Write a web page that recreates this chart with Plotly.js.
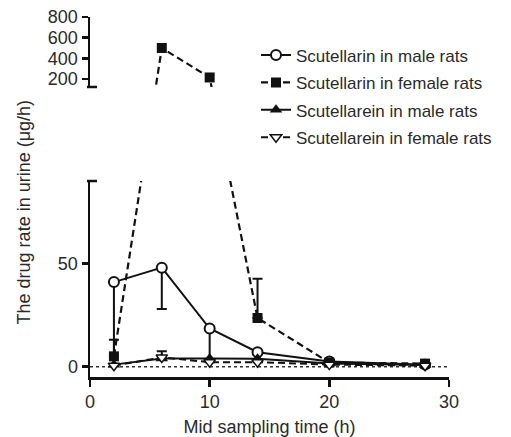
<!DOCTYPE html>
<html>
<head>
<meta charset="utf-8">
<script src="https://cdn.plot.ly/plotly-3.0.1.min.js"></script>
<style>html,body{margin:0;padding:0;background:#fff;}#chart{width:511px;height:437px;}</style>
</head>
<body>
<div id="chart"></div>
<script>
// ---- data ----
var time = [2, 6, 10, 14, 20, 28];
var seriesNames = ["Scutellarin in male rats", "Scutellarin in female rats", "Scutellarein in male rats", "Scutellarein in female rats"];
var scutMale = [41, 48, 18.5, 7, 2.5, 1];
var scutMaleErrMinus = [40, 20, 16, 4, 0, 0];
var scutFemale = [5, 500, 215, 23.6, 2, 1.5];
var scutFemaleErrPlus = [8, 0, 0, 19, 0, 0];
var scuteinMale = [1, 4, 4, 3.8, 1.5, 0.8];
var scuteinFemale = [0.5, 4.5, 2.2, 2.2, 1, 0.5];
var scuteinFemaleErrPlus = [0, 3, 0, 0, 0, 0];
var lowerTicks = [0, 50];
var upperTicks = [200, 400, 600, 800];
var xTicks = [0, 10, 20, 30];

// ---- axis geometry ----
var lowerRange = [-5, 90];
var upperRange = [123, 800];
var lowerDomain = [0, 0.5444];
var upperDomain = [0.8056, 1];
var pw = 421;
var xDomain = [0, 359 / pw];

function toPaper(v) {
  if (v <= lowerRange[1]) return lowerDomain[0] + (lowerDomain[1] - lowerDomain[0]) * (v - lowerRange[0]) / (lowerRange[1] - lowerRange[0]);
  return upperDomain[0] + (upperDomain[1] - upperDomain[0]) * (v - upperRange[0]) / (upperRange[1] - upperRange[0]);
}
function paperToLower(p) { return lowerRange[0] + (lowerRange[1] - lowerRange[0]) * (p - lowerDomain[0]) / (lowerDomain[1] - lowerDomain[0]); }
function paperToUpper(p) { return upperRange[0] + (upperRange[1] - upperRange[0]) * (p - upperDomain[0]) / (upperDomain[1] - upperDomain[0]); }
function onLower(arr) { return arr.map(function (v) { return paperToLower(toPaper(v)); }); }
function onUpper(arr) { return arr.map(function (v) { return paperToUpper(toPaper(v)); }); }

var FONT = "Liberation Sans, Arial, sans-serif";
var TXT = "#2a2a2a";
var dashF = "7px,4px";

function errObj(plus, minus) {
  return {type: "data", symmetric: false, array: plus, arrayminus: minus, color: "#111", thickness: 2, width: 5, visible: true};
}
var zeros = time.map(function () { return 0; });

var traces = [
  {x: time, y: onLower(scutMale), xaxis: "x", yaxis: "y", name: seriesNames[0], legendgroup: "g1", mode: "lines+markers",
   line: {color: "#111", width: 2}, marker: {symbol: "circle", size: 10, color: "#fff", line: {color: "#111", width: 2}},
   error_y: errObj(zeros, scutMaleErrMinus)},
  {x: time, y: onLower(scutFemale), xaxis: "x", yaxis: "y", name: seriesNames[1], legendgroup: "g2", mode: "lines+markers",
   line: {color: "#111", width: 2.2, dash: dashF}, marker: {symbol: "square", size: 10, color: "#111"},
   error_y: errObj(scutFemaleErrPlus, zeros)},
  {x: time, y: onLower(scuteinMale), xaxis: "x", yaxis: "y", name: seriesNames[2], legendgroup: "g3", mode: "lines+markers",
   line: {color: "#111", width: 2}, marker: {symbol: "triangle-up", size: 11, color: "#111"}},
  {x: time, y: onLower(scuteinFemale), xaxis: "x", yaxis: "y", name: seriesNames[3], legendgroup: "g4", mode: "lines+markers",
   line: {color: "#111", width: 2, dash: dashF}, marker: {symbol: "triangle-down", size: 10, color: "#fff", line: {color: "#111", width: 1.5}},
   error_y: errObj(scuteinFemaleErrPlus, zeros)},
  // upper panel part of the female scutellarin series
  {x: time, y: onUpper(scutFemale), xaxis: "x", yaxis: "y2", name: seriesNames[1], legendgroup: "g2", showlegend: false, mode: "lines+markers",
   line: {color: "#111", width: 2.2, dash: dashF}, marker: {symbol: "square", size: 10, color: "#111"}}
];

var axCommon = {showgrid: false, zeroline: false, showline: true, linecolor: "#111", linewidth: 2.5,
  ticks: "outside", ticklen: 6, tickwidth: 2.5, tickcolor: "#111", tickfont: {family: FONT, size: 18, color: TXT}};

var layout = {
  width: 511, height: 437,
  margin: {l: 90, r: 0, t: 17, b: 60},
  paper_bgcolor: "#fff", plot_bgcolor: "rgba(0,0,0,0)",
  font: {family: FONT, size: 18, color: TXT},
  showlegend: true,
  legend: {x: 166 / pw, y: 0.943, xanchor: "left", yanchor: "top", bgcolor: "rgba(0,0,0,0)",
    font: {family: FONT, size: 17, color: TXT}, itemwidth: 30, tracegroupgap: 2.3},
  xaxis: Object.assign({}, axCommon, {domain: xDomain, range: [0, 30], tickvals: xTicks, ticktext: xTicks.map(String), anchor: "y",
    ticklen: 7, title: {text: "Mid sampling time (h)", font: {family: FONT, size: 18, color: TXT}, standoff: 12}}),
  yaxis: Object.assign({}, axCommon, {domain: lowerDomain, range: lowerRange, tickvals: lowerTicks, ticktext: lowerTicks.map(String), anchor: "x"}),
  yaxis2: Object.assign({}, axCommon, {domain: upperDomain, range: upperRange, tickvals: upperTicks, ticktext: upperTicks.map(String), anchor: "x"}),
  shapes: [
    {type: "line", xref: "x", yref: "y", x0: 0, x1: 30, y0: 0, y1: 0, line: {color: "#333", width: 1.5, dash: "dot"}, layer: "below"},
    // axis end caps at the break
    {type: "line", xref: "paper", yref: "paper", x0: -3 / pw, x1: 7 / pw, y0: lowerDomain[1], y1: lowerDomain[1], line: {color: "#111", width: 2.5}},
    {type: "line", xref: "paper", yref: "paper", x0: -3 / pw, x1: 7 / pw, y0: upperDomain[0], y1: upperDomain[0], line: {color: "#111", width: 2.5}}
  ],
  annotations: [
    {text: "The drug rate in urine (μg/h)", xref: "paper", yref: "paper", x: -65.7 / pw, y: 0.458, textangle: -90,
     showarrow: false, font: {family: FONT, size: 18, color: TXT}, xanchor: "center", yanchor: "middle"}
  ]
};

Plotly.newPlot("chart", traces, layout, {displayModeBar: false, staticPlot: true});
</script>
</body>
</html>
